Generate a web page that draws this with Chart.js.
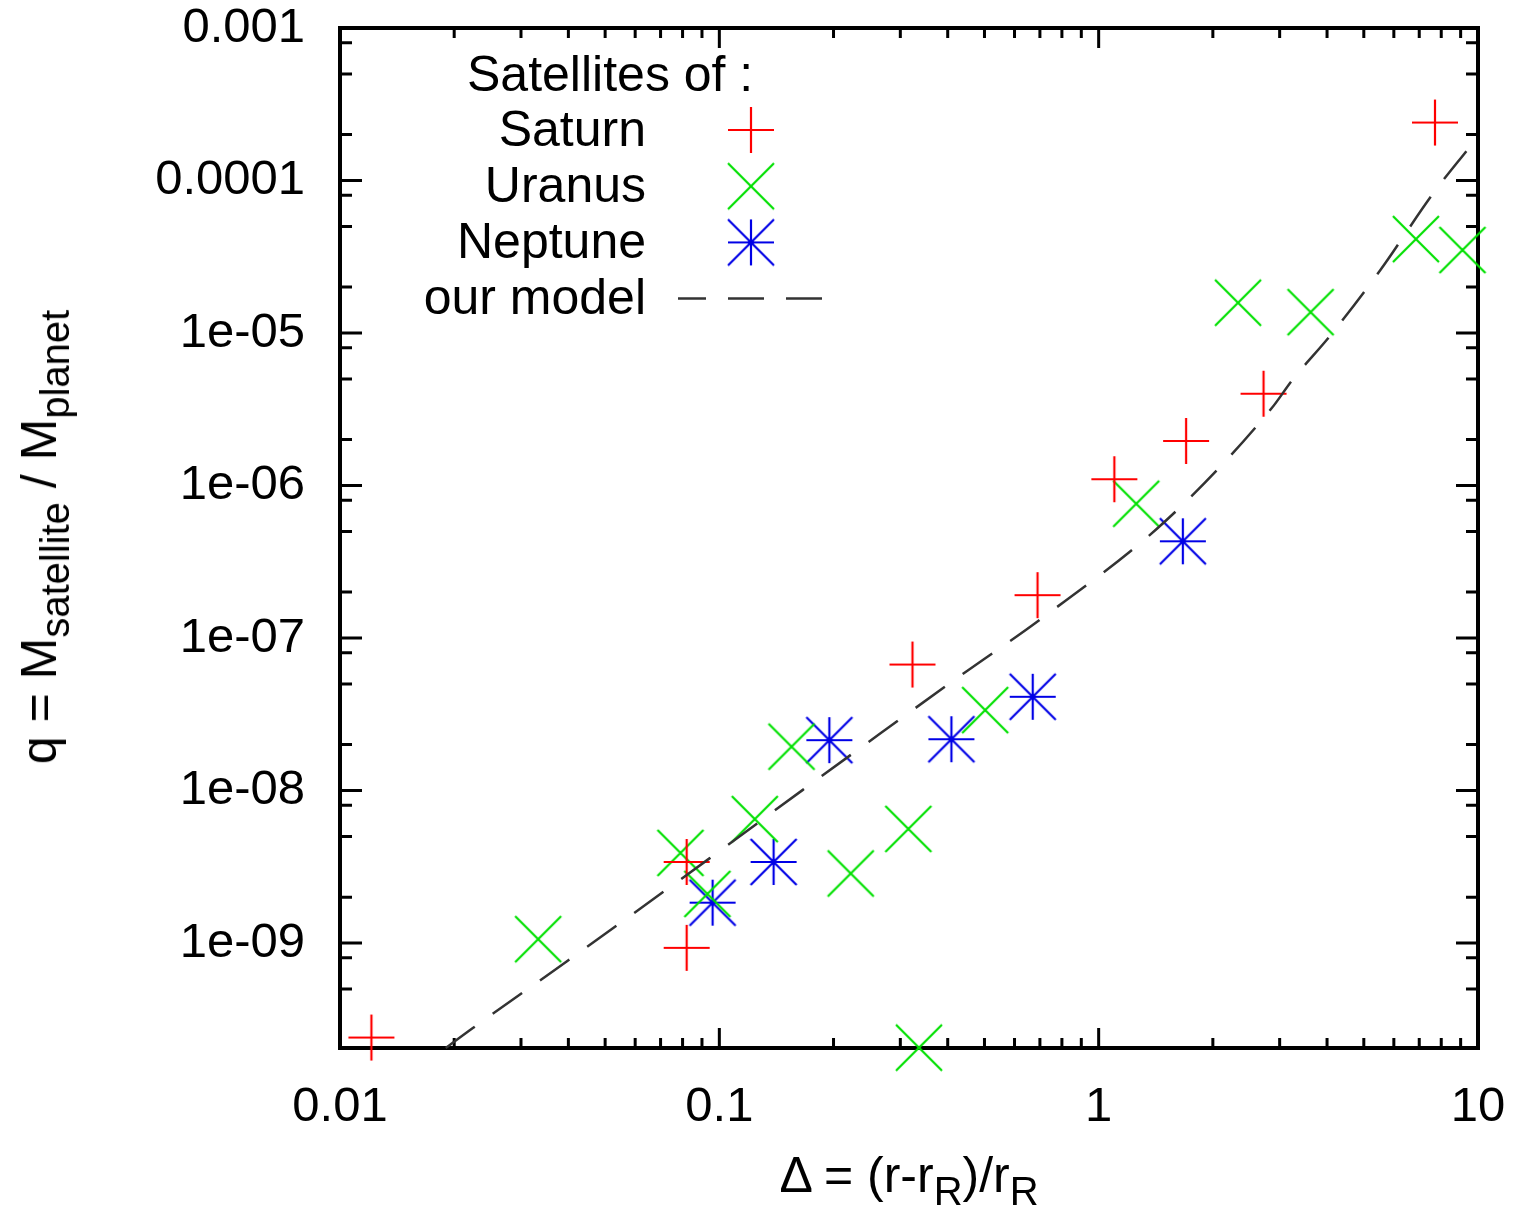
<!DOCTYPE html>
<html lang="en">
<head>
    <meta charset="UTF-8">
    <title>Satellite mass ratio vs distance to Roche radius</title>
    <script src="https://cdn.jsdelivr.net/npm/chart.js"></script>
    <style>
        body { margin: 0; background: #fff; font-family: "Liberation Sans", Arial, sans-serif; }
        #wrap { position: relative; width: 1516px; height: 1207px; }
        canvas { display: block; }
        .axisTitle { position: absolute; white-space: nowrap; color: #000; line-height: 1; }
        .axisTitle sub { font-size: 0.8em; vertical-align: -0.32em; line-height: 0; }
        #xTitle { font-size: 50px; left: 909px; top: 1175px; transform: translate(-50%, -50%); }
        #yTitle { font-size: 50px; left: 39px; top: 537px; transform: translate(-50%, -50%) rotate(-90deg); }
    </style>
</head>
<body>
<div id="wrap">
    <canvas id="massChart" width="1516" height="1207"></canvas>
    <div id="xTitle" class="axisTitle">&Delta; = (r-r<sub>R</sub>)/r<sub>R</sub></div>
    <div id="yTitle" class="axisTitle">q = M<sub>satellite</sub> / M<sub>planet</sub></div>
</div>

<script>
    // values (log-log)
    const saturnX = [0.0121, 0.082, 0.082, 0.323, 0.69, 1.10, 1.70, 2.72, 7.7];
    const saturnY = [2.4e-10, 3.4e-9, 9.3e-10, 6.7e-8, 1.91e-7, 1.1e-6, 1.96e-6, 4.0e-6, 2.4e-4];

    const uranusX = [0.0333, 0.079, 0.093, 0.124, 0.155, 0.222, 0.315, 0.336, 0.502, 1.256, 2.33, 3.62, 6.86, 9.1];
    const uranusY = [1.06e-9, 3.9e-9, 2.1e-9, 6.5e-9, 1.94e-8, 2.86e-9, 5.6e-9, 2.06e-10, 3.37e-8, 7.6e-7, 1.58e-5, 1.37e-5, 4.13e-5, 3.5e-5];

    const neptuneX = [0.096, 0.139, 0.195, 0.409, 0.670, 1.667];
    const neptuneY = [1.84e-9, 3.4e-9, 2.14e-8, 2.17e-8, 4.12e-8, 4.31e-7];

    const modelX = [0.019, 0.0224, 0.0395, 0.0942, 0.166, 0.248, 0.443, 0.703, 1.51, 2.86, 3.24, 4.09, 5.53, 7.63, 9.53];
    const modelY = [2.05e-10, 2.77e-10, 7.54e-10, 3.59e-9, 1.01e-8, 2.09e-8, 5.92e-8, 1.33e-7, 5.94e-7, 3.22e-6, 4.92e-6, 9.7e-6, 2.59e-5, 8.28e-5, 1.67e-4];

    const seriesLabels = ['Saturn', 'Uranus', 'Neptune', 'our model'];
    const keyTitle = 'Satellites of :';

    const xTickValues = [0.01, 0.1, 1, 10];
    const xTickLabels = ['0.01', '0.1', '1', '10'];
    const yTickValues = [1e-9, 1e-8, 1e-7, 1e-6, 1e-5, 1e-4, 1e-3];
    const yTickLabels = ['1e-09', '1e-08', '1e-07', '1e-06', '1e-05', '0.0001', '0.001'];
    const xMinorSteps = [2, 3, 4, 5, 6, 7, 8, 9];
    const yMinorSteps = [2, 5, 8];

    const xMin = 0.01, xMax = 10;
    const yMin = 2.05e-10, yMax = 1e-3;

    const FONT = '"Liberation Sans", Arial, sans-serif';

    function toPoints(xs, ys) {
        return xs.map((x, i) => ({ x: x, y: ys[i] }));
    }

    // gnuplot style point symbols
    function makeMarker(kind, color) {
        const half = 23, lw = 2.2;
        const size = half * 2 + 4;
        const c = document.createElement('canvas');
        c.width = size; c.height = size;
        const g = c.getContext('2d');
        const m = size / 2;
        g.strokeStyle = color;
        g.lineWidth = lw;
        g.beginPath();
        if (kind === 'plus' || kind === 'star') {
            g.moveTo(m - half, m); g.lineTo(m + half, m);
            g.moveTo(m, m - half); g.lineTo(m, m + half);
        }
        if (kind === 'cross' || kind === 'star') {
            g.moveTo(m - half, m - half); g.lineTo(m + half, m + half);
            g.moveTo(m - half, m + half); g.lineTo(m + half, m - half);
        }
        g.stroke();
        return c;
    }

    const frameAndTicks = {
        id: 'frameAndTicks',
        beforeDatasetsDraw(chart) {
            const { ctx, chartArea: a, scales } = chart;
            const xs = scales.x, ys = scales.y;
            ctx.save();
            ctx.strokeStyle = '#000';
            ctx.lineWidth = 3;
            ctx.beginPath();
            for (let d = 0.01; d < xMax * 1.01; d *= 10) {
                [1].concat(xMinorSteps).forEach(m => {
                    const v = d * m;
                    if (v < xMin * 0.999 || v > xMax * 1.001) return;
                    const px = xs.getPixelForValue(v);
                    const len = m === 1 ? 20 : 10;
                    ctx.moveTo(px, a.bottom); ctx.lineTo(px, a.bottom - len);
                    ctx.moveTo(px, a.top); ctx.lineTo(px, a.top + len);
                });
            }
            for (let e = -10; e <= -3; e++) {
                [1].concat(yMinorSteps).forEach(m => {
                    const v = m * Math.pow(10, e);
                    if (v < yMin * 1.001 || v > yMax * 1.001) return;
                    const py = ys.getPixelForValue(v);
                    const len = m === 1 ? 22 : 12;
                    ctx.moveTo(a.left, py); ctx.lineTo(a.left + len, py);
                    ctx.moveTo(a.right, py); ctx.lineTo(a.right - len, py);
                });
            }
            ctx.stroke();
            ctx.lineWidth = 4;
            ctx.strokeRect(a.left, a.top, a.right - a.left, a.bottom - a.top);
            ctx.restore();
        }
    };

    // key drawn like gnuplot: title, then right-aligned labels with samples
    const keyBox = {
        id: 'keyBox',
        afterDraw(chart) {
            const ctx = chart.ctx;
            ctx.save();
            ctx.font = '50px ' + FONT;
            ctx.fillStyle = '#000';
            ctx.textBaseline = 'middle';
            ctx.textAlign = 'left';
            ctx.fillText(keyTitle, 467, 77);
            ctx.textAlign = 'right';
            chart.data.datasets.forEach((ds, i) => {
                const yy = 130 + i * 56.2;
                ctx.fillText(ds.label, 646, yy + 2);
                if (ds.showLine) {
                    ctx.save();
                    ctx.strokeStyle = ds.borderColor;
                    ctx.lineWidth = ds.borderWidth;
                    ctx.setLineDash(ds.borderDash);
                    ctx.lineDashOffset = 8;
                    ctx.beginPath();
                    ctx.moveTo(678, yy);
                    ctx.lineTo(825, yy);
                    ctx.stroke();
                    ctx.restore();
                } else {
                    const img = ds.pointStyle;
                    ctx.drawImage(img, 751 - img.width / 2, yy - img.height / 2);
                }
            });
            ctx.restore();
        }
    };

    const ctx = document.getElementById('massChart').getContext('2d');
    const massChart = new Chart(ctx, {
        type: 'scatter',
        data: {
            datasets: [
                {
                    label: seriesLabels[0],
                    data: toPoints(saturnX, saturnY),
                    pointStyle: makeMarker('plus', '#ff0000'),
                    pointRadius: 23,
                    showLine: false,
                    clip: false
                },
                {
                    label: seriesLabels[1],
                    data: toPoints(uranusX, uranusY),
                    pointStyle: makeMarker('cross', '#00e000'),
                    pointRadius: 23,
                    showLine: false,
                    clip: false
                },
                {
                    label: seriesLabels[2],
                    data: toPoints(neptuneX, neptuneY),
                    pointStyle: makeMarker('star', '#0000e6'),
                    pointRadius: 23,
                    showLine: false,
                    clip: false
                },
                {
                    label: seriesLabels[3],
                    data: toPoints(modelX, modelY),
                    showLine: true,
                    pointRadius: 0,
                    borderColor: '#333333',
                    borderWidth: 2.5,
                    borderDash: [36, 22],
                    cubicInterpolationMode: 'monotone',
                    order: -1,
                    clip: false
                }
            ]
        },
        options: {
            responsive: false,
            animation: false,
            devicePixelRatio: 1,
            events: [],
            layout: { padding: { left: 0, top: 28, right: 38, bottom: 0 } },
            plugins: {
                legend: { display: false },
                tooltip: { enabled: false }
            },
            scales: {
                x: {
                    type: 'logarithmic',
                    min: xMin,
                    max: xMax,
                    grid: { display: false, drawTicks: false },
                    border: { display: false },
                    ticks: {
                        autoSkip: false,
                        maxRotation: 0,
                        padding: 30,
                        color: '#000',
                        font: { family: FONT, size: 49 },
                        callback: (value) => xTickLabels[xTickValues.indexOf(value)]
                    },
                    afterBuildTicks: (scale) => { scale.ticks = xTickValues.map(v => ({ value: v })); },
                    afterFit: (scale) => {
                        scale.height = 159;
                        scale.paddingLeft = 0;
                        scale.paddingRight = 0;
                    }
                },
                y: {
                    type: 'logarithmic',
                    min: yMin,
                    max: yMax,
                    grid: { display: false, drawTicks: false },
                    border: { display: false },
                    ticks: {
                        autoSkip: false,
                        padding: 35,
                        color: '#000',
                        font: { family: FONT, size: 49 },
                        callback: (value) => yTickLabels[yTickValues.indexOf(value)]
                    },
                    afterBuildTicks: (scale) => { scale.ticks = yTickValues.map(v => ({ value: v })); },
                    afterFit: (scale) => {
                        scale.width = 340;
                        scale.paddingTop = 0;
                        scale.paddingBottom = 0;
                    }
                }
            }
        },
        plugins: [frameAndTicks, keyBox]
    });
</script>
</body>
</html>
